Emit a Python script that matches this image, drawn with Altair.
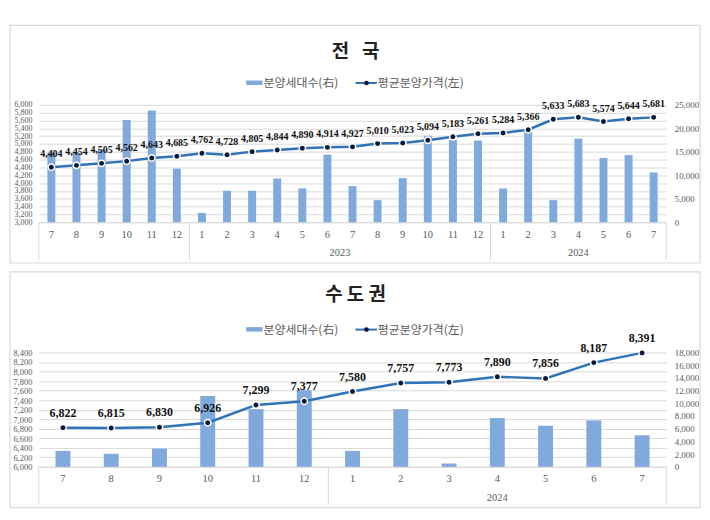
import altair as alt
import pandas as pd

# ---------------- data ----------------
# 전국 (national)
nat_years = [2022] * 6 + [2023] * 12 + [2024] * 7
nat_months = [7, 8, 9, 10, 11, 12,
              1, 2, 3, 4, 5, 6, 7, 8, 9, 10, 11, 12,
              1, 2, 3, 4, 5, 6, 7]
nat_price = [4404, 4454, 4505, 4562, 4643, 4685,
             4762, 4728, 4805, 4844, 4890, 4914, 4927, 5010, 5023, 5094, 5183, 5261,
             5284, 5366, 5633, 5683, 5574, 5644, 5681]
nat_units = [14800, 14800, 15500, 21800, 23800, 11400,
             2000, 6700, 6700, 9300, 7200, 14400, 7700, 4700, 9400, 18400, 17600, 17400,
             7200, 19400, 4700, 17800, 13700, 14300, 10600]
nat_price_ticks = [3000, 3200, 3400, 3600, 3800, 4000, 4200, 4400, 4600, 4800,
                   5000, 5200, 5400, 5600, 5800, 6000]
nat_unit_ticks = [0, 5000, 10000, 15000, 20000, 25000]
nat_year_labels = [2023, 2024]

# 수도권 (capital region)
cap_years = [2023] * 6 + [2024] * 7
cap_months = [7, 8, 9, 10, 11, 12, 1, 2, 3, 4, 5, 6, 7]
cap_price = [6822, 6815, 6830, 6926, 7299, 7377, 7580, 7757, 7773, 7890, 7856, 8187, 8391]
cap_units = [2500, 2050, 2870, 11150, 9080, 12050, 2500, 9080, 520, 7670, 6470, 7300, 4960]
cap_price_ticks = [6000, 6200, 6400, 6600, 6800, 7000, 7200, 7400, 7600, 7800,
                   8000, 8200, 8400]
cap_unit_ticks = [0, 2000, 4000, 6000, 8000, 10000, 12000, 14000, 16000, 18000]
cap_year_labels = [2024]

titles = ["전\u00a0\u00a0\u00a0국", "수 도 권"]
legend_labels = ["분양세대수(右)", "평균분양가격(左)"]

BAR = "#80A9DC"
LINE = "#2E72B8"
DOT = "#0B1838"
GRID = "#D9D9D9"
AXTXT = "#595959"
SERIF = "Liberation Serif"
SANS = "Noto Sans CJK KR"


def panel(years, months, price, units, price_ticks, unit_ticks, year_labels,
          title, width, height, bar_size, label_size, title_y, legend_y, frame_top,
          left_label_size):
    keys = [f"{y}-{m:02d}" for y, m in zip(years, months)]
    df = pd.DataFrame({"key": keys, "price": price, "units": units})

    xscale = alt.Scale(paddingInner=0, paddingOuter=0)
    xaxis = alt.Axis(title=None, labelExpr="toNumber(slice(datum.value, 5))",
                     labelAngle=0, ticks=False, domain=True, domainColor=GRID,
                     labelFont=SERIF, labelFontSize=10.5, labelColor=AXTXT,
                     labelPadding=7, grid=False)

    def X(**kw):
        return alt.X("key:O", sort=keys, scale=xscale, axis=xaxis, **kw)

    bars = alt.Chart(df).mark_bar(size=bar_size, color=BAR).encode(
        x=X(),
        y=alt.Y("units:Q",
                scale=alt.Scale(domain=[unit_ticks[0], unit_ticks[-1]], nice=False, zero=True),
                axis=alt.Axis(orient="right", title=None, values=unit_ticks, format=",.0f",
                              domain=False, ticks=False, grid=False, labelFont=SERIF,
                              labelFontSize=9, labelColor=AXTXT, labelPadding=8)),
    )

    yprice = alt.Y("price:Q",
                   scale=alt.Scale(domain=[price_ticks[0], price_ticks[-1]], nice=False, zero=False),
                   axis=alt.Axis(orient="left", title=None, values=price_ticks, format=",.0f",
                                 domain=False, ticks=False, grid=True, gridColor=GRID,
                                 labelFont=SERIF, labelFontSize=left_label_size,
                                 labelColor=AXTXT, labelPadding=7, labelOverlap=False))
    base = alt.Chart(df).encode(x=X(), y=yprice)
    line = base.mark_line(color=LINE, strokeWidth=2.5)
    pts = base.mark_circle(size=42, color=DOT, opacity=1, stroke="white", strokeWidth=1.5)
    labels = base.mark_text(font=SERIF, fontWeight="bold", fontSize=label_size,
                            baseline="bottom", dy=-8, color="#111111").encode(
        text=alt.Text("price:Q", format=",.0f"))
    price_layer = alt.layer(line, pts, labels)

    # group separators of the two-level category axis
    starts = [keys[0]] + [k for i, k in enumerate(keys) if i > 0 and years[i] != years[i - 1]]
    sep_df = pd.DataFrame({"key": starts})
    seps = alt.Chart(sep_df).mark_rule(color=GRID, strokeWidth=1).encode(
        x=X(bandPosition=0), y=alt.value(height), y2=alt.value(height + 38))
    end_sep = alt.Chart(pd.DataFrame({"key": [keys[-1]]})).mark_rule(color=GRID, strokeWidth=1).encode(
        x=X(bandPosition=1), y=alt.value(height), y2=alt.value(height + 38))

    year_layers = []
    for yr in year_labels:
        idxs = [i for i, y in enumerate(years) if y == yr]
        n = len(idxs)
        pos = n / 2
        j = min(int(pos), n - 1)
        frac = pos - j
        ydf = pd.DataFrame({"key": [keys[idxs[j]]], "year": [str(yr)]})
        year_layers.append(
            alt.Chart(ydf).mark_text(font=SERIF, fontSize=10.5, color=AXTXT, baseline="middle").encode(
                x=X(bandPosition=frac), y=alt.value(height + 31), text="year:N"))

    one = pd.DataFrame({"t": [title]})
    frame = alt.Chart(one).mark_rect(fillOpacity=0, stroke=GRID, strokeWidth=1.2).encode(
        x=alt.value(-29), x2=alt.value(width + 34),
        y=alt.value(frame_top), y2=alt.value(height + 41))
    title_mark = alt.Chart(one).mark_text(font=SANS, fontWeight="bold", fontSize=19,
                                          color="#222222", baseline="middle").encode(
        x=alt.value(width / 2 + 3), y=alt.value(title_y), text="t:N")

    leg_df1 = pd.DataFrame({"t": [legend_labels[0]]})
    leg_df2 = pd.DataFrame({"t": [legend_labels[1]]})
    sw_bar = alt.Chart(leg_df1).mark_rect(color=BAR).encode(
        x=alt.value(208.5), x2=alt.value(225), y=alt.value(legend_y - 2.5), y2=alt.value(legend_y + 2))
    tx1 = alt.Chart(leg_df1).mark_text(font=SANS, fontSize=12, color=AXTXT, align="left",
                                       baseline="middle").encode(
        x=alt.value(226), y=alt.value(legend_y), text="t:N")
    sw_line = alt.Chart(leg_df2).mark_rule(color=LINE, strokeWidth=2).encode(
        x=alt.value(318.5), x2=alt.value(340), y=alt.value(legend_y))
    sw_dot = alt.Chart(leg_df2).mark_circle(color=DOT, size=22, opacity=1).encode(
        x=alt.value(329.5), y=alt.value(legend_y))
    tx2 = alt.Chart(leg_df2).mark_text(font=SANS, fontSize=12, color=AXTXT, align="left",
                                       baseline="middle").encode(
        x=alt.value(341), y=alt.value(legend_y), text="t:N")

    return alt.layer(bars, price_layer, seps, end_sep, *year_layers, frame, title_mark,
                     sw_bar, tx1, sw_line, sw_dot, tx2).resolve_scale(
        y="independent").properties(width=width, height=height)


top = panel(nat_years, nat_months, nat_price, nat_units, nat_price_ticks, nat_unit_ticks,
            nat_year_labels, titles[0], 631, 118, 8, 10, -53, -22, -80, 8)
bottom = panel(cap_years, cap_months, cap_price, cap_units, cap_price_ticks, cap_unit_ticks,
               cap_year_labels, titles[1], 631, 115, 15, 12, -58, -23, -81, 8.5)

chart = alt.vconcat(top, bottom, spacing=5).properties(
    padding={"left": 0, "top": 14, "right": 0, "bottom": 0},
    background="white",
).configure_view(stroke="transparent")

chart.save("out.html", embed_options={"renderer": "svg", "actions": False})
